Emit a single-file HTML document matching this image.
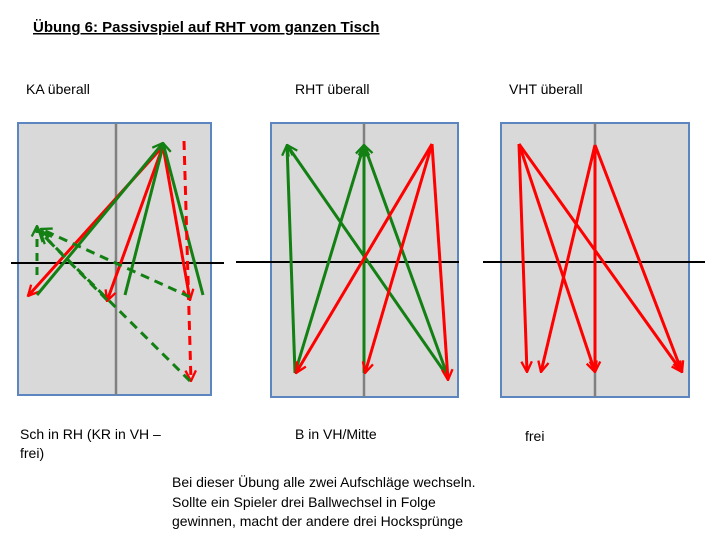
<!DOCTYPE html>
<html><head><meta charset="utf-8"><style>
body{margin:0;background:#fff;}
svg{display:block;font-family:"Liberation Sans",Arial,sans-serif;}
</style></head><body>
<svg width="720" height="540" viewBox="0 0 720 540">
<defs>
<marker id="hr" viewBox="0 0 12 12" refX="11" refY="6" markerWidth="4.2" markerHeight="4.2" orient="auto" markerUnits="strokeWidth"><path d="M1,1 L11,6 L1,11" fill="none" stroke="#f00" stroke-width="2.2"/></marker>
<marker id="hg" viewBox="0 0 12 12" refX="11" refY="6" markerWidth="4.2" markerHeight="4.2" orient="auto" markerUnits="strokeWidth"><path d="M1,1 L11,6 L1,11" fill="none" stroke="#138013" stroke-width="2.2"/></marker>
</defs>
<text x="33" y="32" font-size="15" font-weight="bold" text-decoration="underline">Übung 6: Passivspiel auf RHT vom ganzen Tisch</text>
<text x="26" y="94" font-size="14">KA überall</text>
<text x="295" y="94" font-size="14">RHT überall</text>
<text x="509" y="94" font-size="14">VHT überall</text>

<g>
<rect x="18" y="123" width="193" height="272" fill="#d9d9d9" stroke="#5b86c0" stroke-width="2"/>
<line x1="116" y1="123" x2="116" y2="395" stroke="#808080" stroke-width="2.5"/>
<line x1="11" y1="263" x2="224" y2="263" stroke="#000" stroke-width="2"/>
<g stroke-width="3" fill="none">
<line x1="164" y1="145" x2="28" y2="296" stroke="#f00" marker-end="url(#hr)"/>
<line x1="37" y1="295" x2="163" y2="143" stroke="#138013" marker-end="url(#hg)"/>
<line x1="163" y1="146" x2="107" y2="301" stroke="#f00" marker-end="url(#hr)"/>
<line x1="125" y1="295" x2="163" y2="146" stroke="#138013"/>
<line x1="163" y1="146" x2="190" y2="300" stroke="#f00" marker-end="url(#hr)"/>
<line x1="203" y1="295" x2="163" y2="143" stroke="#138013" marker-end="url(#hg)"/>
<line x1="184" y1="141" x2="191" y2="381" stroke="#f00" stroke-dasharray="9,6" marker-end="url(#hr)"/>
<line x1="37" y1="275" x2="37" y2="226" stroke="#138013" stroke-dasharray="8,6" marker-end="url(#hg)"/>
<line x1="190" y1="297" x2="41" y2="229" stroke="#138013" stroke-dasharray="9,6" marker-end="url(#hg)"/>
<line x1="107" y1="300" x2="39" y2="231" stroke="#138013" stroke-dasharray="9,6" marker-end="url(#hg)"/>
<line x1="190" y1="381" x2="41" y2="233" stroke="#138013" stroke-dasharray="9,6" marker-end="url(#hg)"/>
</g></g>

<g>
<rect x="271" y="123" width="187" height="274" fill="#d9d9d9" stroke="#5b86c0" stroke-width="2"/>
<line x1="364" y1="123" x2="364" y2="397" stroke="#808080" stroke-width="2.5"/>
<line x1="236" y1="262" x2="459" y2="262" stroke="#000" stroke-width="2"/>
<g stroke-width="3" fill="none">
<line x1="295" y1="373" x2="287" y2="145" stroke="#138013" marker-end="url(#hg)"/>
<line x1="448" y1="377" x2="287" y2="145" stroke="#138013" marker-end="url(#hg)"/>
<line x1="295" y1="373" x2="364" y2="145" stroke="#138013" marker-end="url(#hg)"/>
<line x1="364" y1="373" x2="364" y2="145" stroke="#138013" marker-end="url(#hg)"/>
<line x1="448" y1="377" x2="364" y2="145" stroke="#138013" marker-end="url(#hg)"/>
<line x1="432" y1="144" x2="296" y2="373" stroke="#f00" marker-end="url(#hr)"/>
<line x1="432" y1="144" x2="365" y2="373" stroke="#f00" marker-end="url(#hr)"/>
<line x1="432" y1="144" x2="448" y2="380" stroke="#f00" marker-end="url(#hr)"/>
</g></g>

<g>
<rect x="501" y="123" width="188" height="274" fill="#d9d9d9" stroke="#5b86c0" stroke-width="2"/>
<line x1="595" y1="123" x2="595" y2="397" stroke="#808080" stroke-width="2.5"/>
<line x1="483" y1="262" x2="705" y2="262" stroke="#000" stroke-width="2"/>
<g stroke-width="3" fill="none" stroke="#f00">
<line x1="519" y1="144" x2="527" y2="372" marker-end="url(#hr)"/>
<line x1="595" y1="145" x2="541" y2="372" marker-end="url(#hr)"/>
<line x1="519" y1="144" x2="595" y2="372" marker-end="url(#hr)"/>
<line x1="595" y1="145" x2="595" y2="372" marker-end="url(#hr)"/>
<line x1="519" y1="144" x2="682" y2="372" marker-end="url(#hr)"/>
<line x1="595" y1="145" x2="682" y2="372" marker-end="url(#hr)"/>
</g></g>

<text x="20" y="439" font-size="14">Sch in RH (KR in VH –</text>
<text x="20" y="458" font-size="14">frei)</text>
<text x="295" y="439" font-size="14">B in VH/Mitte</text>
<text x="525" y="441" font-size="14">frei</text>
<g font-size="14">
<text x="172" y="487">Bei dieser Übung alle zwei Aufschläge wechseln.</text>
<text x="172" y="507">Sollte ein Spieler drei Ballwechsel in Folge</text>
<text x="172" y="526">gewinnen, macht der andere drei Hocksprünge</text>
</g>
</svg>
</body></html>
